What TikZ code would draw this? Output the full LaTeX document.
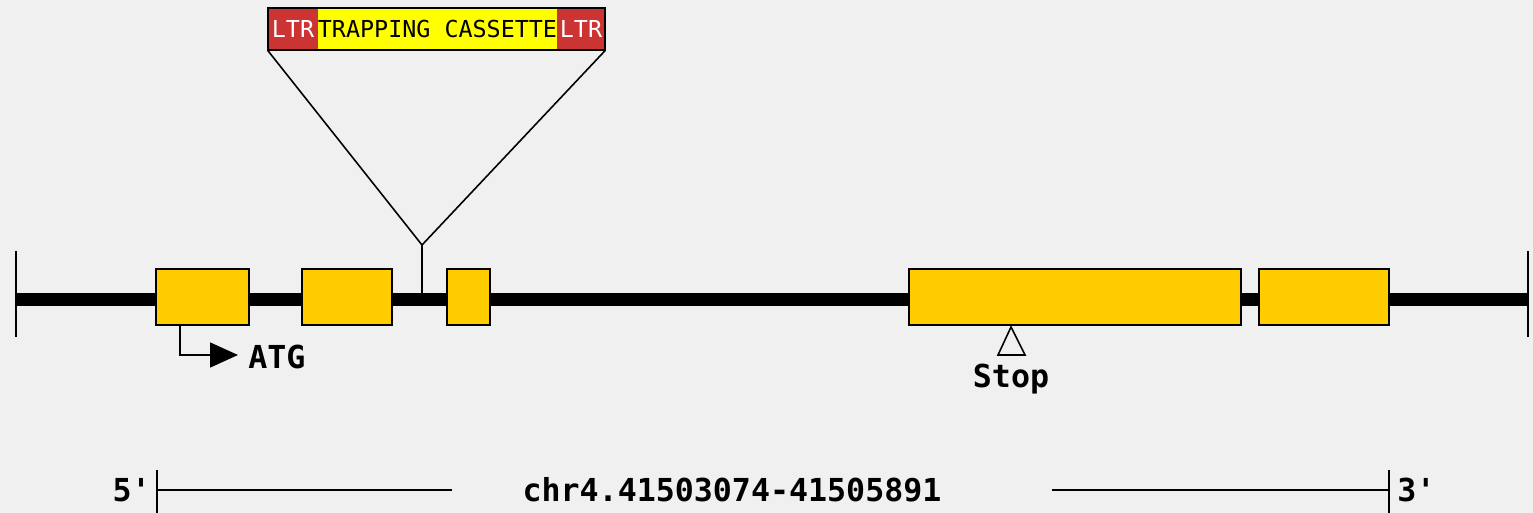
\documentclass[tikz,border=0pt]{standalone}
\usepackage{fontspec}
\setmonofont{DejaVu Sans Mono}
\usetikzlibrary{fit,positioning,arrows.meta}
\definecolor{bgcol}{HTML}{F0F0F0}
\definecolor{exoncol}{HTML}{FFCC00}
\definecolor{ltrcol}{HTML}{CC3333}
\definecolor{cascol}{HTML}{FFFF00}
\tikzset{
	exon/.style={draw=black, fill=exoncol, line width=1.1pt, inner sep=0pt},
	ltrbox/.style={fill=ltrcol, inner sep=0pt},
	biglabel/.style={font=\ttfamily\bfseries\fontsize{18}{21}\selectfont, inner sep=0pt},
	caslabel/.style={font=\ttfamily\fontsize{13.3}{15}\selectfont, inner sep=0pt},
	thin/.style={line width=0.9pt}
}
\begin{document}
\begin{tikzpicture}[x=0.02cm, y=-0.02cm]
	\fill[bgcol] (0,0) rectangle (1533,513);
	\useasboundingbox (0,0) rectangle (1533,513);
	
	% backbone with end ticks
	\coordinate (left) at (16,299);
	\coordinate (right) at (1528,299);
	\draw[line width=7.4pt] (left) -- (right);
	\draw[line width=1.1pt] (16,251) -- (16,337);
	\draw[line width=1.1pt] (1528,251) -- (1528,337);
	
	% exons
	\node[exon, fit={(156,269) (249,325)}] (e1) {};
	\node[exon, fit={(302,269) (392,325)}] (e2) {};
	\node[exon, fit={(447,269) (490,325)}] (e3) {};
	\node[exon, fit={(909,269) (1241,325)}] (e4) {};
	\node[exon, fit={(1259,269) (1389,325)}] (e5) {};
	
	% trapping cassette
	\node[fill=cascol, inner sep=0pt, fit={(268,8) (605,50)}] (cas) {};
	\node[ltrbox, fit={(268,8) (318,50)}] (ltrl) {};
	\node[ltrbox, fit={(557,8) (605,50)}] (ltrr) {};
	\draw[line width=1.1pt] (cas.north west) rectangle (cas.south east);
	\node[caslabel, text=white] at (ltrl) {LTR};
	\node[caslabel, text=white] at (ltrr) {LTR};
	\node[caslabel] at (437.5,29) {TRAPPING CASSETTE};
	
	% insertion site
	\coordinate (site) at (422,299);
	\coordinate (ins) at (422,245);
	\draw[thin] (site) -- (ins);
	\draw[thin] (cas.south west) -- (ins) -- (cas.south east);
	
	% start codon
	\coordinate (atg) at (180,355);
	\draw[thin, -{Triangle[length=0.56cm, width=0.5cm]}] (e1.south -| atg) |- (238,355);
	\node[biglabel, anchor=west] (atglab) at (248,357) {ATG};
	
	% stop codon
	\coordinate (stop) at (1011,327);
	\draw[thin, fill=bgcol] (stop) -- (998,355) -- (1025,355) -- cycle;
	\node[biglabel] (stoplab) at (1011,379) {Stop};
	
	% scale bar
	\node[biglabel] (chr) at (732,490) {chr4.41503074-41505891};
	\draw[thin] (157,490) -- (452,490);
	\draw[thin] (1052,490) -- (1389,490);
	\draw[line width=1.1pt] (157,470) -- (157,513);
	\draw[line width=1.1pt] (1389,470) -- (1389,513);
	\node[biglabel, anchor=east] (five) at (151,490) {5'};
	\node[biglabel, anchor=west] (three) at (1397,490) {3'};
\end{tikzpicture}
\end{document}
